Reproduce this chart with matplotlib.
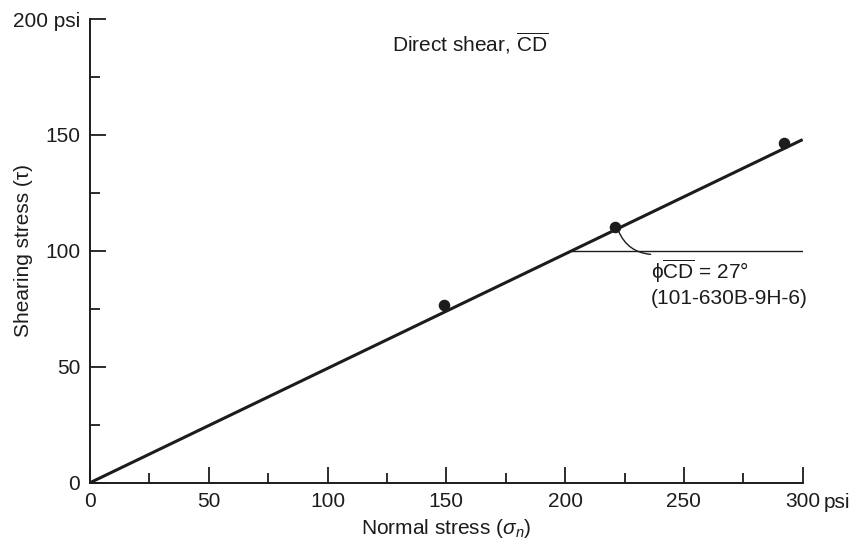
import matplotlib
matplotlib.use("Agg")
import matplotlib.pyplot as plt
import numpy as np

plt.rcParams['font.family'] = ['Liberation Sans', 'DejaVu Sans']
plt.rcParams['mathtext.fontset'] = 'custom'
plt.rcParams['mathtext.rm'] = 'Liberation Sans'
plt.rcParams['mathtext.it'] = 'Liberation Sans:italic'

# test results
normal_stress = [149, 221, 292]
shear_stress = [76.5, 110.5, 146.5]

# failure envelope
env_x = [0, 300]
env_y = [0, 148]

# horizontal reference for the friction angle
ref_x = [203, 300]
ref_y = [100, 100]

x_major = [0, 50, 100, 150, 200, 250, 300]
x_labels = ['0', '50', '100', '150', '200', '250', '300']
y_major = [0, 50, 100, 150, 200]
y_labels = ['0', '50', '100', '150', '200 psi']

ink = '#1c1c1c'
fs = 15

fig = plt.figure(figsize=(8.55, 5.43), dpi=100)
ax = fig.add_axes([0.1053, 0.111, 0.8335, 0.854])

ax.plot(env_x, env_y, color=ink, lw=2.2, solid_capstyle='butt', zorder=3)
ax.plot(ref_x, ref_y, color=ink, lw=1.0, zorder=2)
ax.plot(normal_stress, shear_stress, 'o', color=ink, ms=7.3, zorder=4)

# angle mark
ax.annotate('', xy=(236, 98.5), xytext=(222.5, 108.5),
            arrowprops=dict(arrowstyle='-', color=ink, lw=1.0,
                            shrinkA=0, shrinkB=0,
                            connectionstyle='arc3,rad=0.3'))

ax.set_xlim(0, 300)
ax.set_ylim(0, 200)

for s in ['top', 'right']:
    ax.spines[s].set_visible(False)
for s in ['left', 'bottom']:
    ax.spines[s].set_linewidth(1.4)
    ax.spines[s].set_color(ink)

ax.set_xticks(x_major)
ax.set_xticklabels(x_labels)
ax.set_yticks(y_major)
ax.set_yticklabels(y_labels)
ax.set_xticks(np.arange(25, 300, 50), minor=True)
ax.set_yticks(np.arange(25, 200, 50), minor=True)
ax.tick_params(which='major', direction='in', length=11.5, width=1.3, color=ink,
               labelsize=fs, labelcolor=ink)
ax.tick_params(which='minor', direction='in', length=7, width=1.3, color=ink)
ax.tick_params(axis='x', pad=7)
ax.tick_params(axis='y', pad=7)

# unit after the last x tick label
ax.annotate('psi', xy=(300, 0), xycoords='data', xytext=(15, -7.2),
            textcoords='offset points', ha='left', va='top', fontsize=fs, color=ink)

ax.set_xlabel(r'Normal stress ($\sigma_n$)', fontsize=fs, color=ink, labelpad=4)
ax.set_ylabel('Shearing stress (τ)', fontsize=fs, color=ink)
ax.yaxis.set_label_coords(-0.08, 0.5)

ax.text(160, 189.5, r'Direct shear, $\overline{\mathrm{CD}}$', ha='center', va='center',
        fontsize=fs, color=ink)
ax.text(236, 91, r'ϕ$\overline{\mathrm{CD}}$ = 27°', ha='left', va='center',
        fontsize=fs, color=ink)
ax.text(236, 79.5, '(101-630B-9H-6)', ha='left', va='center', fontsize=fs, color=ink)

fig.savefig('out.png', dpi=100)
